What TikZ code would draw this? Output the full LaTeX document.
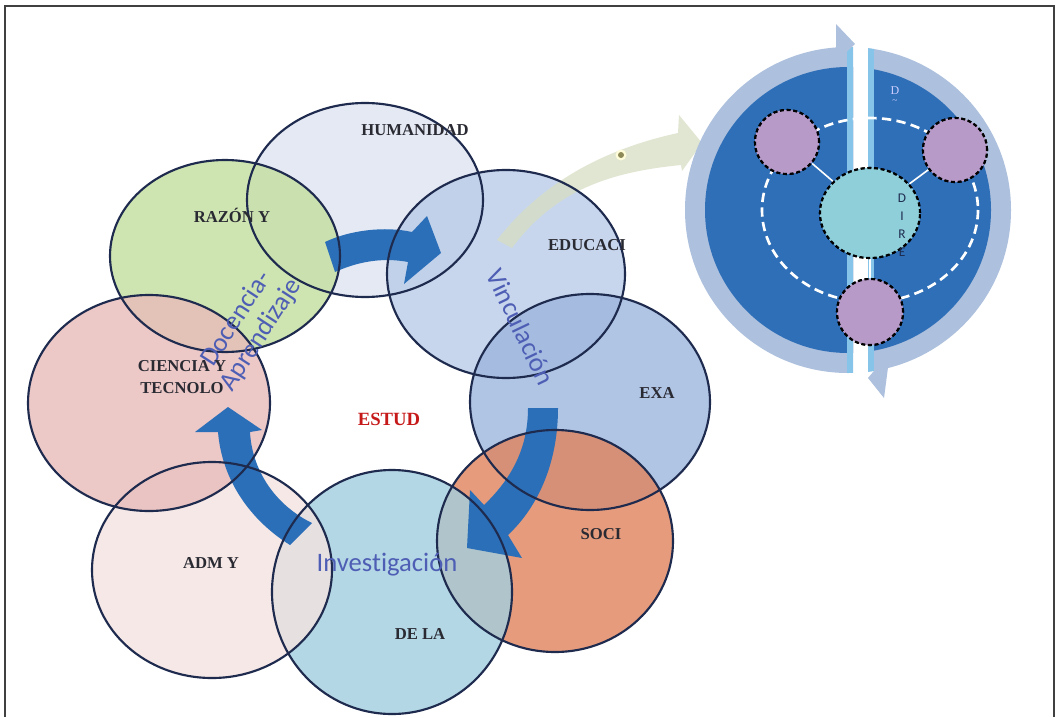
\documentclass[tikz,border=0pt]{standalone}
\usepackage{fontspec}
\setmainfont{Liberation Serif}
\newfontfamily\carl[Ligatures=NoCommon]{Carlito}
\usetikzlibrary{shapes.geometric}
\definecolor{chum}{HTML}{DFE4F0}
\definecolor{craz}{HTML}{C4DF9E}
\definecolor{cedu}{HTML}{BACCE8}
\definecolor{cexa}{HTML}{9DB6DE}
\definecolor{csoc}{HTML}{E0845C}
\definecolor{cdela}{HTML}{A2CEDF}
\definecolor{cadm}{HTML}{F4E3E0}
\definecolor{ccie}{HTML}{E8BBB9}
\definecolor{rimc}{HTML}{1E2B4E}
\definecolor{barc}{HTML}{2B6FB8}
\definecolor{tblue}{HTML}{4E5EB4}
\definecolor{txt}{HTML}{2A2A33}
\definecolor{ringc}{HTML}{ADC0DD}
\definecolor{darkb}{HTML}{2F6FB7}
\definecolor{stripec}{HTML}{86C4EA}
\definecolor{purp}{HTML}{B89AC9}
\definecolor{cyanc}{HTML}{8FCFDA}
\definecolor{greenar}{HTML}{D6DEC2}
\tikzset{
  blob/.style={ellipse, inner sep=0pt, draw=none, fill opacity=0.8},
  rim/.style={draw=rimc, line width=1.6pt},
  lbl/.style={text=txt, font=\fontsize{12.5}{14}\selectfont\bfseries, align=center},
  flow/.style={text=tblue, font=\carl\fontsize{20}{22}\selectfont, align=center},
  barrow/.style={fill=barc},
  dot/.style={circle, inner sep=0pt, draw=black, line width=1.6pt, dash pattern=on 3pt off 2pt, fill=purp, minimum size=64*0.75pt},
  frame/.style={draw=black!75, line width=1.2pt}
}
\begin{document}
\begin{tikzpicture}[x=0.75pt,y=-0.75pt]
\useasboundingbox (0,0) rectangle (1059,717);
\fill[white] (0,0) rectangle (1059,717);
\draw[frame] (5,717) -- (5,6) -- (1054,6) -- (1054,717);

% ellipse fills
\node[blob, fill=chum, minimum width=236*0.75pt, minimum height=194*0.75pt] (hum) at (365,200) {};
\node[blob, fill=craz, minimum width=230*0.75pt, minimum height=192*0.75pt] (raz) at (225,256) {};
\node[blob, fill=cedu, minimum width=238*0.75pt, minimum height=208*0.75pt] (edu) at (506,274) {};
\node[blob, fill=cexa, minimum width=240*0.75pt, minimum height=216*0.75pt] (exa) at (590,402) {};
\node[blob, fill=csoc, minimum width=236*0.75pt, minimum height=222*0.75pt] (soc) at (555,541) {};
\node[blob, fill=cdela, minimum width=240*0.75pt, minimum height=244*0.75pt] (dela) at (392,592) {};
\node[blob, fill=cadm, minimum width=240*0.75pt, minimum height=216*0.75pt] (adm) at (212,570) {};
\node[blob, fill=ccie, minimum width=242*0.75pt, minimum height=216*0.75pt] (cie) at (149,403) {};

% faint green arrow towards the right figure
\fill[greenar, fill opacity=0.75] (497,240) .. controls (540,185) and (600,150) .. (678,133)
  -- (679,115) -- (702,143) -- (682,171) -- (681,165)
  .. controls (610,172) and (555,190) .. (512,248) -- cycle;
\node[circle, inner sep=0pt, minimum size=11*0.75pt, fill=white!85!yellow] (gdot) at (621,155) {};
\node[circle, inner sep=0pt, minimum size=6*0.75pt, fill=black!45!olive!70] at (gdot) {};

% blue block arrows
\fill[barrow] (325,242) .. controls (350,230) and (385,226) .. (412,232) -- (427,216) -- (441,253)
  -- (404,284) -- (408,262) .. controls (382,257) and (357,262) .. (335,272) -- cycle;
\fill[barrow] (528,408) .. controls (528,450) and (510,480) .. (484,505) -- (470,490) -- (467,548)
  -- (522,558) -- (508,535) .. controls (540,505) and (558,460) .. (558,408) -- cycle;
\fill[barrow] (218,432) -- (195,432) -- (228,407) -- (262,430) -- (250,432)
  .. controls (252,470) and (275,505) .. (312,523) -- (290,545)
  .. controls (250,520) and (222,480) .. (218,432) -- cycle;

% ellipse rims
\draw[rim] (hum.center) ellipse [x radius=118, y radius=97];
\draw[rim] (raz.center) ellipse [x radius=115, y radius=96];
\draw[rim] (edu.center) ellipse [x radius=119, y radius=104];
\draw[rim] (exa.center) ellipse [x radius=120, y radius=108];
\draw[rim] (soc.center) ellipse [x radius=118, y radius=111];
\draw[rim] (dela.center) ellipse [x radius=120, y radius=122];
\draw[rim] (adm.center) ellipse [x radius=120, y radius=108];
\draw[rim] (cie.center) ellipse [x radius=121, y radius=108];

% labels
\node[lbl] (thum) at (415,130) {HUMANIDAD};
\node[lbl] (traz) at (232,215) {RAZÓN Y};
\node[lbl] (tedu) at (587,245) {EDUCACI};
\node[lbl] (texa) at (657,393) {EXA};
\node[lbl] (tsoc) at (601,534) {SOCI};
\node[lbl] (tdela) at (420,634) {DE LA};
\node[lbl] (tadm) at (211,563) {ADM Y};
\node[flow, rotate=57, font=\carl\fontsize{20}{22}\selectfont] (doc) at (249,327) {Docencia-\\Aprendizaje};
\node[lbl, font=\fontsize{12.5}{16}\selectfont\bfseries] (tcie) at (182,377) {CIENCIA Y\\TECNOLO};
\node[lbl, text=red!75!black!90, font=\fontsize{14}{16}\selectfont\bfseries] (test) at (389,419) {ESTUD};

\node[flow, rotate=-64.5] (vin) at (521,327) {Vinculación};
\node[flow] (inv) at (387,565) {Investigación};

% right figure
\begin{scope}
  \clip (660,0) rectangle (853,420);
  \fill[ringc] (848,210) circle [radius=163];
  \fill[darkb] (848,210) circle [radius=143];
  \clip (848,210) circle [radius=163];
  \fill[stripec] (847,0) rectangle (853,420);
\end{scope}
\begin{scope}
  \clip (868,0) rectangle (1040,420);
  \fill[ringc] (848,210) circle [radius=163];
  \fill[darkb] (848,210) circle [radius=143];
  \clip (848,210) circle [radius=163];
  \fill[stripec] (868,0) rectangle (874,420);
\end{scope}
\fill[ringc] (836,24) -- (855,44) -- (836,62) -- cycle;
\fill[ringc] (890,352) -- (868,378) -- (884,398) -- cycle;

\coordinate (dc) at (870,210);
\draw[white, line width=2pt, dash pattern=on 7pt off 4pt] (dc) ellipse [x radius=108, y radius=92];
\node[dot] (tl) at (787,142) {};
\node[dot] (tr) at (955,150) {};
\node[dot, minimum size=66*0.75pt] (bt) at (870,312) {};
\node[ellipse, inner sep=0pt, draw=black, line width=1.6pt, dash pattern=on 3pt off 2pt, fill=cyanc,
  minimum width=100*0.75pt, minimum height=90*0.75pt] (cc) at (870,213) {};
\draw[white, line width=1.2pt] (cc) -- (tl);
\draw[white, line width=1.2pt] (cc) -- (tr);
\draw[white, line width=1.2pt] (cc) -- (bt);
\node[ellipse, inner sep=0pt, draw=black, line width=1.6pt, dash pattern=on 3pt off 2pt, fill=cyanc,
  minimum width=100*0.75pt, minimum height=90*0.75pt] at (cc) {};
\node[dot] at (tl) {};
\node[dot] at (tr) {};
\node[dot, minimum size=66*0.75pt] at (bt) {};
\node[text=white!80!blue, font=\fontsize{9}{9}\selectfont, align=center, inner sep=0pt] (dtop) at (895,95) {D\\[-2pt]\scriptsize\textasciitilde};
\node[text=rimc, font=\carl\fontsize{10}{13.5}\selectfont, align=center, inner sep=0pt] (dire) at (902,225) {D\\I\\R\\E};
\end{tikzpicture}
\end{document}
